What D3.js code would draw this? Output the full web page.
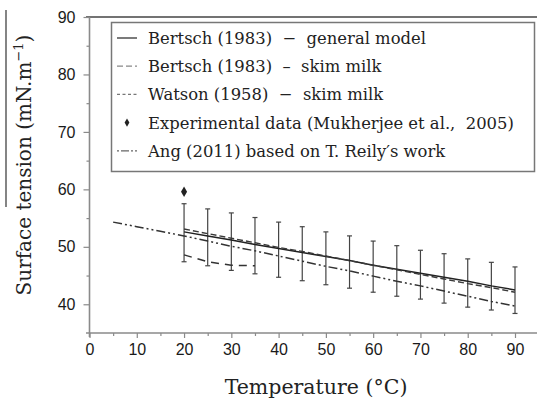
<!DOCTYPE html>
<html>
<head>
<meta charset="utf-8">
<script src="https://cdn.jsdelivr.net/npm/d3@7"></script>
<style>
	body { margin: 0; background: #fff; }
	svg { display: block; }
</style>
</head>
<body>
<div id="chart"></div>
<script>
// Data
const modelTemps = [20, 25, 30, 35, 40, 45, 50, 55, 60, 65, 70, 75, 80, 85, 90];
const bertschGeneral = [52.6, 51.9, 51.2, 50.4, 49.7, 49.0, 48.3, 47.6, 46.8, 46.1, 45.4, 44.7, 44.0, 43.2, 42.5];
const watsonSkim = [53.1, 52.3, 51.5, 50.7, 49.9, 49.2, 48.4, 47.6, 46.8, 46.0, 45.2, 44.4, 43.6, 42.9, 42.1];
const errHigh = [57.5, 56.6, 55.9, 55.1, 54.3, 53.5, 52.6, 51.9, 51.0, 50.2, 49.4, 48.8, 47.9, 47.3, 46.5];
const errLow = [47.4, 46.7, 45.9, 45.3, 44.7, 44.1, 43.4, 42.8, 42.1, 41.4, 40.9, 40.2, 39.5, 39.0, 38.4];

const skimTemps = [20, 25, 30, 35];
const bertschSkim = [48.6, 47.4, 46.8, 46.7];

const angTemps = [5, 10, 15, 20, 25, 30, 35, 40, 45, 50, 55, 60, 65, 70, 75, 80, 85, 90];
const angReily = [54.3, 53.5, 52.7, 51.9, 51.0, 50.1, 49.3, 48.4, 47.5, 46.6, 45.8, 44.9, 44.0, 43.2, 42.3, 41.4, 40.5, 39.7];

const expTemps = [20];
const expValues = [59.6];

const xTicks = [0, 10, 20, 30, 40, 50, 60, 70, 80, 90];
const xMinor = [5, 15, 25, 35, 45, 55, 65, 75, 85];
const yTicks = [40, 50, 60, 70, 80, 90];
const yMinor = [45, 55, 65, 75, 85];

const legendLabels = [
	'Bertsch (1983)  \u2212  general model',
	'Bertsch (1983)  \u2013  skim milk',
	'Watson (1958)  \u2212  skim milk',
	'Experimental data (Mukherjee et al.,  2005)',
	'Ang (2011) based on T. Reily\u2032s work',
];

// Attribute
const width = 537;
const height = 407;
const serif = '"DejaVu Serif", serif';
const sans = '"Liberation Sans", Arial, sans-serif';
const axisColor = '#8a8a8a';

const svg = d3.select('#chart').append('svg')
	.attr('width', width)
	.attr('height', height)
	.attr('viewBox', [0, 0, width, height]);

const x = d3.scaleLinear().domain([0, 90]).range([89.5, 515]);
const y = d3.scaleLinear().domain([35, 90]).range([333, 17]);

// Frame lines
svg.append('line')
	.attr('x1', 6).attr('x2', 6).attr('y1', 10).attr('y2', 207)
	.attr('stroke', '#333').attr('stroke-width', 1.2);
svg.append('line')
	.attr('x1', 86).attr('x2', width).attr('y1', y(90)).attr('y2', y(90))
	.attr('stroke', '#444').attr('stroke-width', 1.3);

// Axes
svg.append('g')
	.attr('transform', `translate(0,${y(35)})`)
	.call(d3.axisBottom(x).tickValues(xTicks).tickSize(5).tickSizeOuter(0).tickPadding(6));
svg.append('g')
	.attr('transform', `translate(0,${y(35)})`)
	.call(d3.axisBottom(x).tickValues(xMinor).tickSize(3).tickFormat(''));

svg.append('g')
	.attr('transform', `translate(${x(0)},0)`)
	.call(d3.axisLeft(y).tickValues(yTicks).tickSize(6).tickSizeOuter(0).tickPadding(8));
svg.append('g')
	.attr('transform', `translate(${x(0)},0)`)
	.call(d3.axisLeft(y).tickValues(yMinor).tickSize(3).tickFormat(''));

svg.selectAll('.domain').remove();
svg.selectAll('.tick line').attr('stroke', axisColor).attr('stroke-width', 1.2);
svg.selectAll('.tick text')
	.attr('fill', '#1a1a1a')
	.style('font-family', sans)
	.style('font-size', '16px');

svg.append('line')
	.attr('x1', 86).attr('x2', width).attr('y1', y(35)).attr('y2', y(35))
	.attr('stroke', axisColor).attr('stroke-width', 1.6);
svg.append('line')
	.attr('x1', x(0)).attr('x2', x(0)).attr('y1', y(90)).attr('y2', y(35) + 4)
	.attr('stroke', axisColor).attr('stroke-width', 1.6);

// Axis titles
svg.append('text')
	.attr('x', 316).attr('y', 394)
	.attr('text-anchor', 'middle')
	.style('font-family', serif)
	.style('font-size', '20.5px')
	.attr('fill', '#222')
	.text('Temperature (\u00b0C)');

const yTitle = svg.append('text')
	.attr('transform', 'translate(31,165) rotate(-90)')
	.attr('text-anchor', 'middle')
	.style('font-family', serif)
	.style('font-size', '20px')
	.attr('fill', '#222');
yTitle.append('tspan').text('Surface tension (mN.m');
yTitle.append('tspan').attr('dy', -8).style('font-size', '13px').text('\u22121');
yTitle.append('tspan').attr('dy', 8).text(')');

// Error bars on the general model
const plot = svg.append('g');
const bars = plot.append('g').attr('stroke', '#444').attr('stroke-width', 1.2);
bars.selectAll('line.bar')
	.data(modelTemps)
	.join('line')
	.attr('class', 'bar')
	.attr('x1', (d) => x(d)).attr('x2', (d) => x(d))
	.attr('y1', (d, i) => y(errHigh[i])).attr('y2', (d, i) => y(errLow[i]));
bars.selectAll('line.capHi')
	.data(modelTemps)
	.join('line')
	.attr('class', 'capHi')
	.attr('x1', (d) => x(d) - 2.5).attr('x2', (d) => x(d) + 2.5)
	.attr('y1', (d, i) => y(errHigh[i])).attr('y2', (d, i) => y(errHigh[i]));
bars.selectAll('line.capLo')
	.data(modelTemps)
	.join('line')
	.attr('class', 'capLo')
	.attr('x1', (d) => x(d) - 2.5).attr('x2', (d) => x(d) + 2.5)
	.attr('y1', (d, i) => y(errLow[i])).attr('y2', (d, i) => y(errLow[i]));

// Series lines
const line = d3.line().x((d) => x(d[0])).y((d) => y(d[1]));
const series = [
	{ pts: d3.zip(modelTemps, bertschGeneral), dash: null, color: '#222', w: 1.5 },
	{ pts: d3.zip(skimTemps, bertschSkim), dash: '8,6', color: '#333', w: 1.5 },
	{ pts: d3.zip(modelTemps, watsonSkim), dash: '6,3', color: '#3a3a3a', w: 1.4 },
	{ pts: d3.zip(angTemps, angReily), dash: '9,3,2,3,2,3', color: '#333', w: 1.5 },
];
plot.selectAll('path.series')
	.data(series)
	.join('path')
	.attr('class', 'series')
	.attr('fill', 'none')
	.attr('stroke', (d) => d.color)
	.attr('stroke-width', (d) => d.w)
	.attr('stroke-dasharray', (d) => d.dash)
	.attr('d', (d) => line(d.pts));

// Experimental point
plot.selectAll('path.exp')
	.data(d3.zip(expTemps, expValues))
	.join('path')
	.attr('class', 'exp')
	.attr('transform', (d) => `translate(${x(d[0])},${y(d[1])})`)
	.attr('d', d3.symbol(d3.symbolDiamond, 32))
	.attr('fill', '#222');

// Legend
const legend = svg.append('g');
legend.append('rect')
	.attr('x', 111.5).attr('y', 22.5)
	.attr('width', 423).attr('height', 149)
	.attr('fill', '#fff')
	.attr('stroke', '#777').attr('stroke-width', 1.5);

const rowY = (i) => 38 + i * 28.2;
const legendSamples = [
	{ dash: null, color: '#333' },
	{ dash: '6,3', color: '#888' },
	{ dash: '3,2.5', color: '#777' },
	{ dash: null, color: 'none' },
	{ dash: '2,2,8,2', color: '#666' },
];
legend.selectAll('line.sample')
	.data(legendSamples)
	.join('line')
	.attr('class', 'sample')
	.attr('x1', 117).attr('x2', 137)
	.attr('y1', (d, i) => rowY(i)).attr('y2', (d, i) => rowY(i))
	.attr('stroke', (d) => d.color)
	.attr('stroke-width', 1.3)
	.attr('stroke-dasharray', (d) => d.dash);
legend.append('path')
	.attr('transform', `translate(127,${rowY(3)})`)
	.attr('d', d3.symbol(d3.symbolDiamond, 20))
	.attr('fill', '#222');
legend.selectAll('text')
	.data(legendLabels)
	.join('text')
	.attr('x', 148)
	.attr('y', (d, i) => rowY(i) + 6)
	.attr('xml:space', 'preserve')
	.style('white-space', 'pre')
	.style('font-family', serif)
	.style('font-size', '16.4px')
	.attr('fill', '#222')
	.text((d) => d);
</script>
</body>
</html>
